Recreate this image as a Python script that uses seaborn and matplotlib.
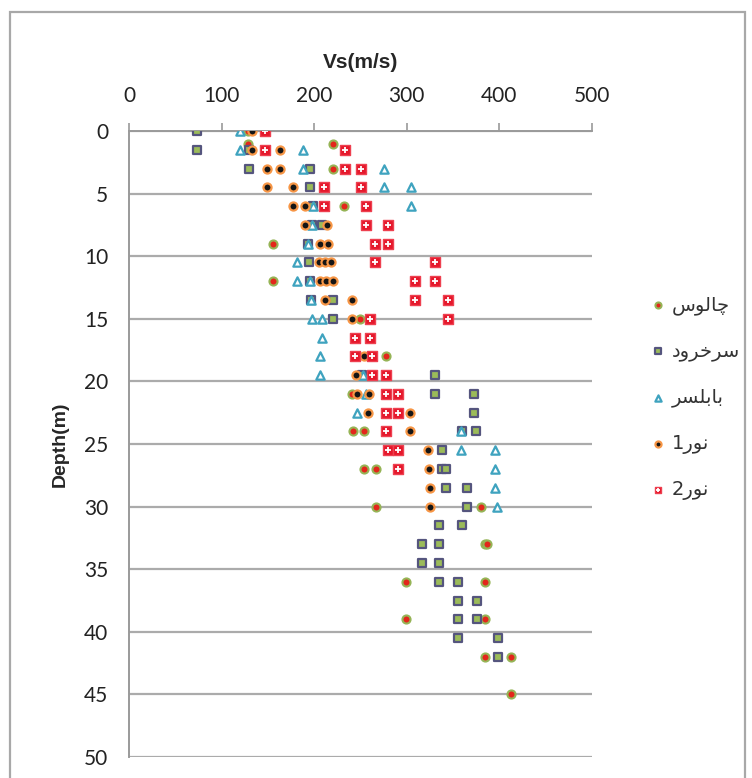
import matplotlib
matplotlib.use("Agg")
from matplotlib import pyplot as plt
from matplotlib.patches import Rectangle
import seaborn as sns

# Vs (m/s) against depth (m) for five sites
chalus_vs = [129, 128, 220, 220, 232, 156, 156, 249, 278, 241,
             242, 254, 254, 267, 267, 380, 384, 387, 299, 384,
             299, 384, 384, 412, 413]
chalus_depth = [0, 1, 1, 3, 6, 9, 12, 15, 18, 21,
                24, 24, 27, 27, 30, 30, 33, 33, 36, 36,
                39, 39, 42, 42, 45]

sarkhrud_vs = [73, 73, 130, 130, 196, 196, 199, 198, 208, 193,
               194, 195, 197, 220, 220, 252, 330, 330, 373, 373,
               360, 375, 338, 338, 342, 342, 365, 365, 335, 360,
               316, 335, 316, 335, 335, 355, 355, 376, 355, 376,
               355, 399, 399]
sarkhrud_depth = [0, 1.5, 1.5, 3, 3, 4.5, 6, 7.5, 7.5, 9,
                  10.5, 12, 13.5, 13.5, 15, 19.5, 19.5, 21, 21, 22.5,
                  24, 24, 25.5, 27, 27, 28.5, 28.5, 30, 31.5, 31.5,
                  33, 33, 34.5, 34.5, 36, 36, 37.5, 37.5, 39, 39,
                  40.5, 40.5, 42]

babolsar_vs = [120, 120, 188, 188, 275, 275, 305, 305, 199, 198,
               193, 181, 181, 195, 197, 198, 208, 208, 206, 206,
               253, 256, 246, 358, 358, 395, 395, 395, 397]
babolsar_depth = [0, 1.5, 1.5, 3, 3, 4.5, 4.5, 6, 6, 7.5,
                  9, 10.5, 12, 12, 13.5, 15, 15, 16.5, 18, 19.5,
                  19.5, 21, 22.5, 24, 25.5, 25.5, 27, 28.5, 30]

nur1_vs = [133, 133, 163, 149, 163, 149, 177, 177, 190, 190,
           214, 206, 215, 205, 212, 218, 206, 213, 220, 212,
           241, 241, 254, 245, 246, 259, 258, 303, 303, 323,
           324, 325, 325]
nur1_depth = [0, 1.5, 1.5, 3, 3, 4.5, 4.5, 6, 6, 7.5,
              7.5, 9, 9, 10.5, 10.5, 10.5, 12, 12, 12, 13.5,
              13.5, 15, 18, 19.5, 21, 21, 22.5, 22.5, 24, 25.5,
              27, 28.5, 30]

nur2_vs = [147, 147, 233, 233, 250, 250, 211, 211, 256, 256,
           280, 280, 266, 266, 330, 330, 309, 309, 345, 345,
           260, 260, 244, 244, 262, 262, 278, 278, 291, 291,
           278, 278, 280, 291, 290]
nur2_depth = [0, 1.5, 1.5, 3, 3, 4.5, 4.5, 6, 6, 7.5,
              7.5, 9, 9, 10.5, 10.5, 12, 12, 13.5, 13.5, 15,
              15, 16.5, 16.5, 18, 18, 19.5, 19.5, 21, 21, 22.5,
              22.5, 24, 25.5, 25.5, 27]

# Persian site names, written in shaped (presentation) forms in visual order
labels = [
    "\uFEB1\uFEEE\uFEDF\uFE8E\uFB7C",        # چالوس
    "\uFEA9\uFEED\uFEAE\uFEA7\uFEAE\uFEB3",  # سرخرود
    "\uFEAE\uFEB4\uFEE0\uFE91\uFE8E\uFE91",  # بابلسر
    "1\uFEAD\uFEEE\uFEE7",                   # نور1
    "2\uFEAD\uFEEE\uFEE7",                   # نور2
]

sns.set_theme(style="white")
plt.rcParams["font.family"] = ["Lato", "DejaVu Sans"]

fig = plt.figure(figsize=(7.52, 7.78), dpi=100)
ax = fig.add_axes([129 / 752, 21 / 778, 463 / 752, 626 / 778])

sns.scatterplot(x=chalus_vs, y=chalus_depth, ax=ax, marker="o", s=34,
                color="#e3261b", edgecolor="#96b456", linewidth=1.5, zorder=3)
h1 = ax.collections[-1]
sns.scatterplot(x=sarkhrud_vs, y=sarkhrud_depth, ax=ax, marker="s", s=32,
                color="#9bbb59", edgecolor="#55557e", linewidth=1.6, zorder=3)
h2 = ax.collections[-1]
sns.scatterplot(x=babolsar_vs, y=babolsar_depth, ax=ax, marker="^", s=36,
                color="white", edgecolor="#3fa3bf", linewidth=1.6, zorder=3)
h3 = ax.collections[-1]
sns.scatterplot(x=nur1_vs, y=nur1_depth, ax=ax, marker="o", s=34,
                color="#151515", edgecolor="#f79646", linewidth=1.6, zorder=3)
h4 = ax.collections[-1]
sns.scatterplot(x=nur2_vs, y=nur2_depth, ax=ax, marker="s", s=44,
                color="#e5182b", edgecolor="#ee4050", linewidth=1.0, zorder=3)
h5 = ax.collections[-1]
h5p = ax.scatter(nur2_vs, nur2_depth, marker="+", s=22, color="white",
                 linewidths=1.3, zorder=4)

ax.set_xlim(0, 500)
ax.set_ylim(50, 0)
ax.xaxis.tick_top()
ax.xaxis.set_label_position("top")
ax.set_xticks(range(0, 501, 100))
ax.set_yticks(range(0, 51, 5))
ax.tick_params(axis="x", direction="out", length=6, width=1.2, color="#9a9a9a",
               pad=12, labelsize=15, labelcolor="#222222")
ax.tick_params(axis="y", direction="out", length=6, width=1.2, color="#9a9a9a",
               pad=9, labelsize=15, labelcolor="#222222")
ax.grid(axis="y", color="#ababab", linewidth=1.6)
ax.grid(axis="x", visible=False)
for side in ["right", "bottom"]:
    ax.spines[side].set_visible(False)
for side in ["left", "top"]:
    ax.spines[side].set_color("#9a9a9a")
    ax.spines[side].set_linewidth(1.4)

ax.set_xlabel("Vs(m/s)", fontsize=15, fontweight="bold",
              family=["Liberation Sans", "DejaVu Sans"])
ax.set_ylabel("Depth(m)", fontsize=14, fontweight="bold",
              family=["Liberation Sans", "DejaVu Sans"])
ax.xaxis.set_label_coords(0.5, 1.1)
ax.yaxis.set_label_coords(-0.13, 0.5)

ax.legend([h1, h2, h3, h4, (h5, h5p)], labels, loc="upper left",
          bbox_to_anchor=(633 / 752, 1 - 278 / 778), bbox_transform=fig.transFigure,
          frameon=False, prop={"family": "DejaVu Sans", "size": 14},
          labelspacing=1.36, handletextpad=0.3, handlelength=0.8,
          markerscale=0.75, labelcolor="#333333")

fig.patches.append(Rectangle((10 / 752, -0.05), 735 / 752, 1 - 12 / 778 + 0.05,
                             transform=fig.transFigure, fill=False,
                             edgecolor="#a8a8a8", linewidth=1.6))

fig.savefig("out.png", dpi=100)
